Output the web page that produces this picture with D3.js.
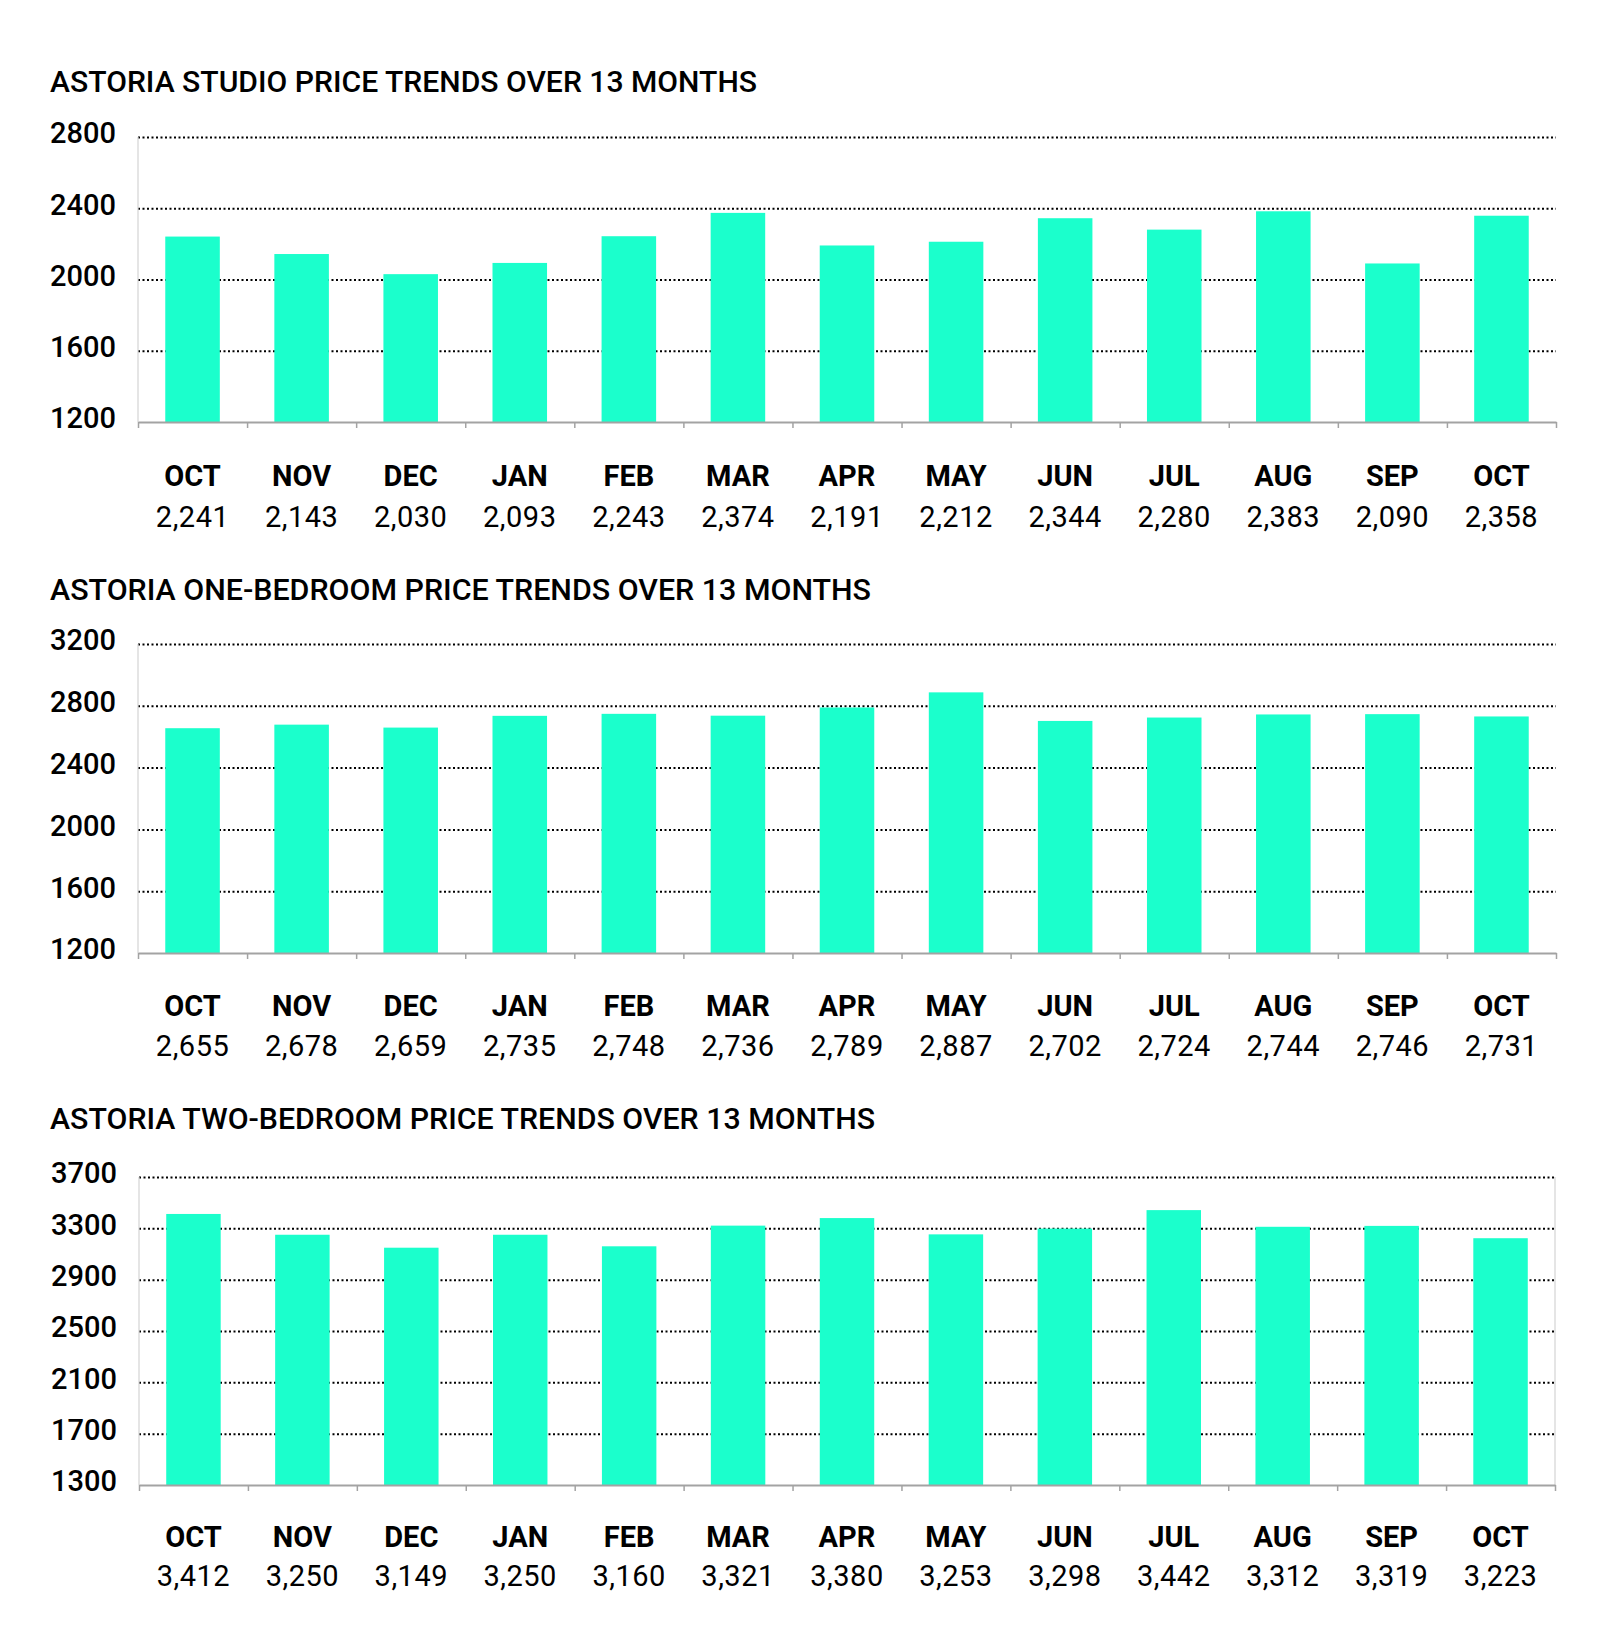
<!DOCTYPE html>
<html>
<head>
<meta charset="utf-8">
<script src="https://cdn.jsdelivr.net/npm/d3@7"></script>
<style>
  body { margin: 0; background: #fff; }
  text { font-family: Roboto, "Liberation Sans", sans-serif; }
</style>
</head>
<body>
<script>
// months shown under every chart
var months = ["OCT", "NOV", "DEC", "JAN", "FEB", "MAR", "APR", "MAY", "JUN", "JUL", "AUG", "SEP", "OCT"];

// average rents per month
var studioPrices = [2241, 2143, 2030, 2093, 2243, 2374, 2191, 2212, 2344, 2280, 2383, 2090, 2358];
var oneBedPrices = [2655, 2678, 2659, 2735, 2748, 2736, 2789, 2887, 2702, 2724, 2744, 2746, 2731];
var twoBedPrices = [3412, 3250, 3149, 3250, 3160, 3321, 3380, 3253, 3298, 3442, 3312, 3319, 3223];

// y tick labels per chart
var studioTicks = [1200, 1600, 2000, 2400, 2800];
var oneBedTicks = [1200, 1600, 2000, 2400, 2800, 3200];
var twoBedTicks = [1300, 1700, 2100, 2500, 2900, 3300, 3700];

var titles = [
	"ASTORIA STUDIO PRICE TRENDS OVER 13 MONTHS",
	"ASTORIA ONE-BEDROOM PRICE TRENDS OVER 13 MONTHS",
	"ASTORIA TWO-BEDROOM PRICE TRENDS OVER 13 MONTHS"
];

var w = 1600;
var h = 1651;
var barColor = "#1bffcc";

var svg = d3.select("body")
	.append("svg")
	.attr("width", w)
	.attr("height", h);

// layout of the three panels
var panels = [
	{ title: titles[0], titleY: 92, titleW: 707, top: 137, bottom: 422, left: 138, right: 1556, monthDy: 64, valueDy: 105, values: studioPrices, ticks: studioTicks, border: false },
	{ title: titles[1], titleY: 600, titleW: 821, top: 644, bottom: 953, left: 138, right: 1556, monthDy: 63, valueDy: 103, values: oneBedPrices, ticks: oneBedTicks, border: false },
	{ title: titles[2], titleY: 1129, titleW: 825, top: 1177, bottom: 1485, left: 139, right: 1555, monthDy: 62, valueDy: 101, values: twoBedPrices, ticks: twoBedTicks, border: true }
];

panels.forEach(function(p) {
	var g = svg.append("g");

	g.append("text")
		.attr("x", 50)
		.attr("y", p.titleY)
		.attr("font-size", "29px")
		.attr("font-weight", 500)
		.attr("fill", "#000")
		.attr("textLength", p.titleW)
		.attr("lengthAdjust", "spacingAndGlyphs")
		.text(p.title);

	var xScale = d3.scaleBand()
		.domain(d3.range(p.values.length))
		.range([p.left, p.right])
		.paddingInner(0.5)
		.paddingOuter(0.25);

	// edges of the bands, for the tick marks between months
	var edgeScale = d3.scaleLinear()
		.domain([0, p.values.length])
		.range([p.left, p.right]);

	var yScale = d3.scaleLinear()
		.domain([p.ticks[0], p.ticks[p.ticks.length - 1]])
		.range([p.bottom, p.top]);

	// dotted grid + labels
	var yAxis = g.append("g")
		.attr("transform", "translate(" + p.left + ",0)")
		.call(d3.axisLeft(yScale)
			.tickValues(p.ticks)
			.tickSize(-(p.right - p.left))
			.tickPadding(22)
			.tickFormat(d3.format("d")));
	yAxis.select(".domain").remove();
	yAxis.selectAll(".tick line")
		.attr("stroke", "#000")
		.attr("stroke-width", 2)
		.attr("stroke-dasharray", "2,2.5")
		.attr("opacity", function(d) { return d === p.ticks[0] ? 0 : 1; });
	yAxis.selectAll(".tick text")
		.attr("font-size", "29px")
		.attr("font-weight", 500)
		.attr("fill", "#000")
		.attr("dy", "0.2em")
		.style("font-family", "Roboto, sans-serif");

	// light vertical frame lines
	g.append("line")
		.attr("x1", p.left).attr("x2", p.left)
		.attr("y1", p.top).attr("y2", p.bottom)
		.attr("stroke", "#d4d4d4")
		.attr("stroke-width", 1.2);
	if (p.border) {
		g.append("line")
			.attr("x1", p.right).attr("x2", p.right)
			.attr("y1", p.top).attr("y2", p.bottom)
			.attr("stroke", "#d4d4d4")
			.attr("stroke-width", 1.2);
	}

	g.selectAll("rect")
		.data(p.values)
		.enter()
		.append("rect")
		.attr("x", function(d, i) { return xScale(i); })
		.attr("width", xScale.bandwidth())
		.attr("y", function(d) { return yScale(d); })
		.attr("height", function(d) { return p.bottom - yScale(d); })
		.attr("fill", barColor);

	var xAxis = g.append("g")
		.attr("transform", "translate(0," + p.bottom + ")")
		.call(d3.axisBottom(edgeScale)
			.tickValues(d3.range(p.values.length + 1))
			.tickSize(6)
			.tickSizeOuter(0)
			.tickFormat(""));
	xAxis.select(".domain")
		.attr("stroke", "#a3a3a3")
		.attr("stroke-width", 2);
	xAxis.selectAll(".tick line")
		.attr("stroke", "#a3a3a3")
		.attr("stroke-width", 1.5);

	// month names
	g.selectAll("text.month")
		.data(months)
		.enter()
		.append("text")
		.attr("class", "month")
		.attr("x", function(d, i) { return xScale(i) + xScale.bandwidth() / 2; })
		.attr("y", p.bottom + p.monthDy)
		.attr("text-anchor", "middle")
		.attr("font-size", "29px")
		.attr("font-weight", 700)
		.attr("fill", "#000")
		.text(function(d) { return d; });

	// price under each month
	g.selectAll("text.value")
		.data(p.values)
		.enter()
		.append("text")
		.attr("class", "value")
		.attr("x", function(d, i) { return xScale(i) + xScale.bandwidth() / 2; })
		.attr("y", p.bottom + p.valueDy)
		.attr("text-anchor", "middle")
		.attr("font-size", "29px")
		.attr("font-weight", 400)
		.attr("letter-spacing", "0.5px")
		.attr("fill", "#000")
		.text(function(d) { return d3.format(",")(d); });
});
</script>
</body>
</html>
